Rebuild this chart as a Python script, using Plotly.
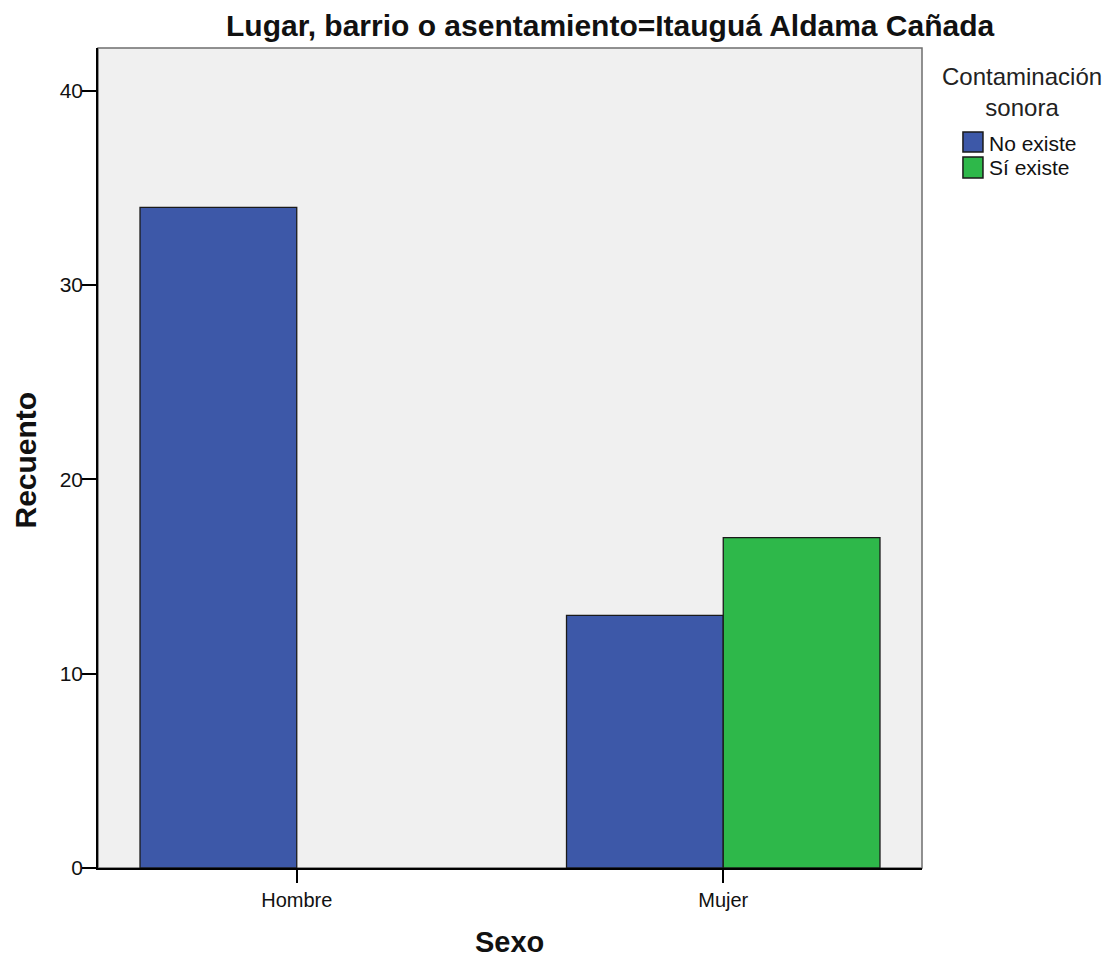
import plotly.graph_objects as go

categories = ["Hombre", "Mujer"]
series_names = ["No existe", "Sí existe"]
no_existe = [34, 13]
si_existe = [None, 17]
y_ticks = [0, 10, 20, 30, 40]
colors = ["#3d58a8", "#2eb84a"]

FONT = "Liberation Sans, Arial, sans-serif"

fig = go.Figure()
for name, vals, col in zip(series_names, [no_existe, si_existe], colors):
    fig.add_trace(go.Bar(x=categories, y=vals, name=name,
                         marker=dict(color=col, line=dict(color="#1a1a1a", width=1.3))))

fig.update_layout(
    width=1110, height=950,
    margin=dict(l=90, r=196, t=40, b=90),
    paper_bgcolor="white", plot_bgcolor="#f0f0f0",
    barmode="group", bargap=0.265, bargroupgap=0,
    font=dict(family=FONT, color="#111"),
    showlegend=False,
)
fig.update_xaxes(range=[-0.466, 1.466], showline=True, linecolor="black", linewidth=1.5,
                 ticks="outside", ticklen=13, tickcolor="black", tickwidth=1.5,
                 tickfont=dict(size=20, color="#111"), showgrid=False)
fig.update_yaxes(range=[0, 42.2], tickvals=y_ticks, showline=True, linecolor="black", linewidth=1.5,
                 ticks="outside", ticklen=14, tickcolor="black", tickwidth=1.5,
                 ticklabelstandoff=-5,
                 tickfont=dict(size=21, color="#111"), showgrid=False, zeroline=False)

# plot frame
fig.add_shape(type="rect", xref="paper", yref="paper", x0=0, x1=1, y0=0, y1=1,
              line=dict(color="#6e6e6e", width=1.5), fillcolor="rgba(0,0,0,0)", layer="below")

# title and axis titles
fig.add_annotation(text="<b>Lugar, barrio o asentamiento=Itauguá Aldama Cañada</b>",
                   xref="paper", yref="paper", x=0.6216, y=1.0280, showarrow=False,
                   xanchor="center", yanchor="middle", font=dict(size=30, color="#111"))
fig.add_annotation(text="<b>Recuento</b>", textangle=-90,
                   xref="paper", yref="paper", x=-0.0879, y=0.4976, showarrow=False,
                   xanchor="center", yanchor="middle", font=dict(size=30, color="#111"))
fig.add_annotation(text="<b>Sexo</b>",
                   xref="paper", yref="paper", x=0.499, y=-0.0902, showarrow=False,
                   xanchor="center", yanchor="middle", font=dict(size=29, color="#111"))

# legend (drawn manually to match the reference's large swatches)
fig.add_annotation(text="Contaminación<br>sonora", xref="paper", yref="paper",
                   x=1.1213, y=0.9463, showarrow=False, xanchor="center", yanchor="middle",
                   align="center", font=dict(size=24, color="#222"))
sw = [(0.8732, 0.8976, 0.8841), (0.8415, 0.8671, 0.8537)]
for (y0, y1, yt), name, col in zip(sw, series_names, colors):
    fig.add_shape(type="rect", xref="paper", yref="paper", x0=1.0497, x1=1.0740, y0=y0, y1=y1,
                  line=dict(color="#1a1a1a", width=1.5), fillcolor=col)
    fig.add_annotation(text=name, xref="paper", yref="paper", x=1.0788, y=yt, showarrow=False,
                       xanchor="left", yanchor="middle", font=dict(size=21, color="#111"))

fig.write_html("out.html")
